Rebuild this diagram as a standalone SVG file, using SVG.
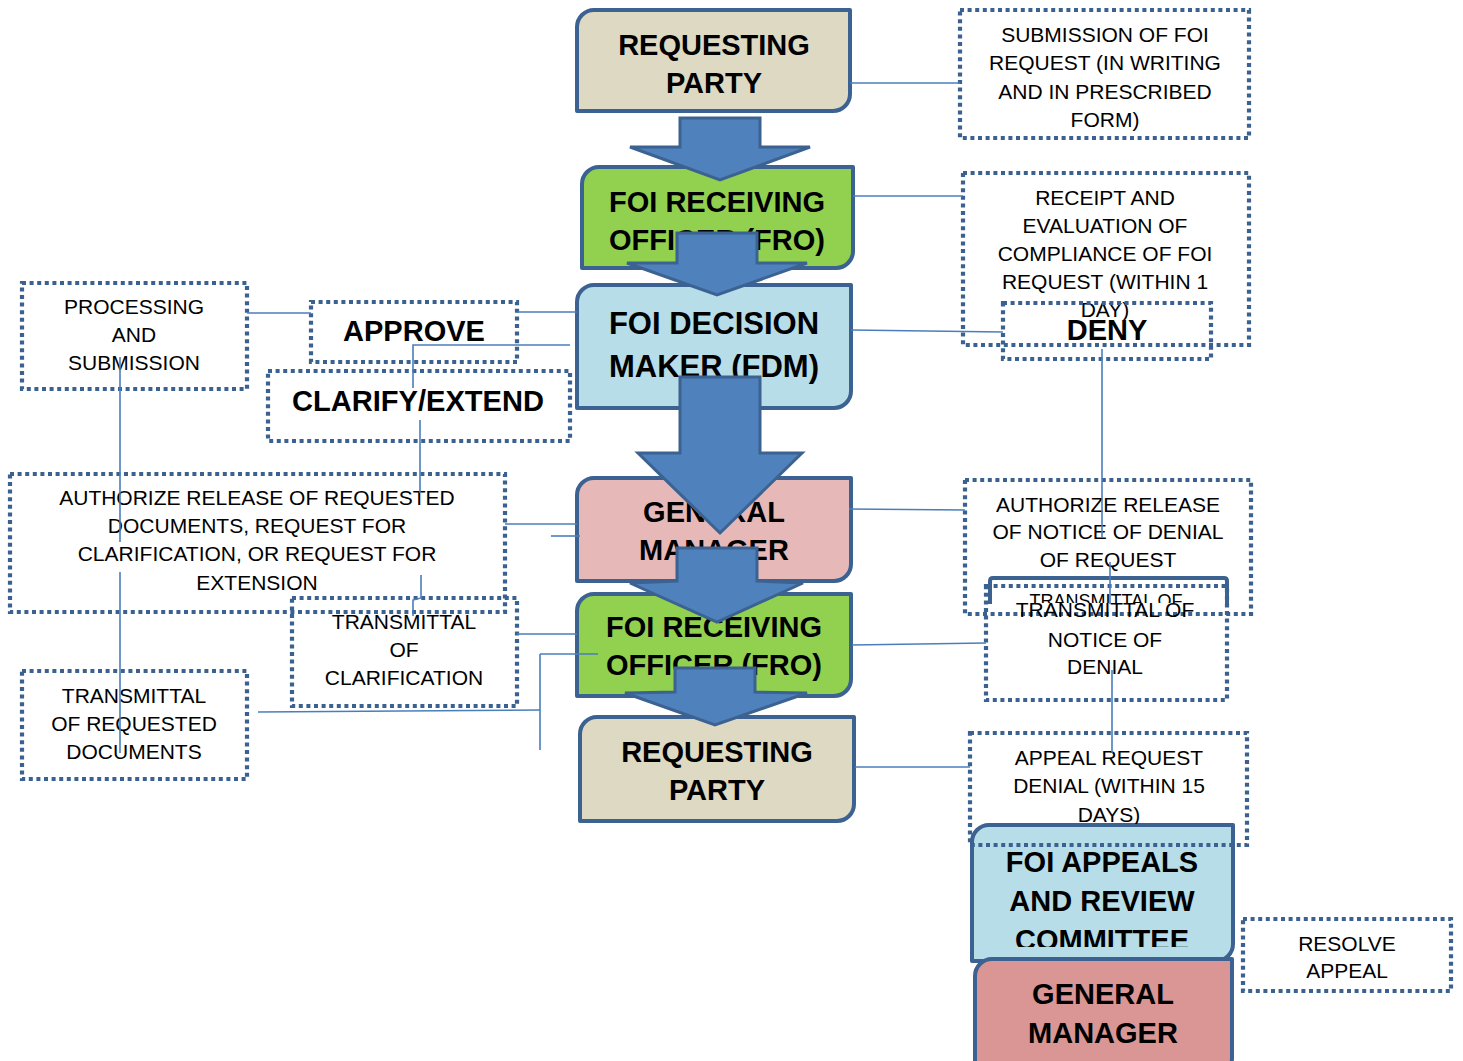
<svg xmlns="http://www.w3.org/2000/svg" width="1463" height="1061" viewBox="0 0 1463 1061">
<defs>
<style>
.box{stroke:#3c6291;stroke-width:4;stroke-linejoin:round}
.arrow{fill:#4f81bd;stroke:#3c6291;stroke-width:3;stroke-linejoin:miter}
.dot{fill:none;stroke:#3b6190;stroke-width:4.2;stroke-dasharray:4 3.6}
.bt{font-family:"Liberation Sans",Arial,sans-serif;font-weight:bold;font-size:29px;fill:#000;text-anchor:middle}
.nt{font-family:"Liberation Sans",Arial,sans-serif;font-size:21px;fill:#000;text-anchor:middle}
.conn line,.conn polyline{stroke:#4a7ebb;stroke-width:1.6;fill:none}
</style>
<clipPath id="clipCommittee"><rect x="960" y="820" width="300" height="127"/></clipPath>
<clipPath id="clipDays"><rect x="960" y="730" width="300" height="94"/></clipPath>
<clipPath id="clipGhost"><rect x="980" y="580" width="260" height="23"/></clipPath>
</defs>
<rect width="1463" height="1061" fill="#fff"/>

<g id="requesting-party-1">
<path class="box" fill="#ddd9c3" d="M577,27 A17,17 0 0 1 594,10 H850 V94 A17,17 0 0 1 833,111 H577 Z"/>
<text class="bt" x="714" y="55">REQUESTING</text>
<text class="bt" x="714" y="93">PARTY</text>
</g>
<g id="fro-1">
<path class="box" fill="#92d050" d="M582,184 A17,17 0 0 1 599,167 H853 V251 A17,17 0 0 1 836,268 H582 Z"/>
<text class="bt" x="717" y="212">FOI RECEIVING</text>
<text class="bt" x="717" y="250">OFFICER (FRO)</text>
</g>
<g id="fdm">
<path class="box" fill="#b7dde8" d="M577,302 A17,17 0 0 1 594,285 H851 V391 A17,17 0 0 1 834,408 H577 Z"/>
<text class="bt" x="714" y="334" style="font-size:31px">FOI DECISION</text>
<text class="bt" x="714" y="377" style="font-size:31px">MAKER (FDM)</text>
</g>
<g id="general-manager-1">
<path class="box" fill="#e6b9b8" d="M577,495 A17,17 0 0 1 594,478 H851 V564 A17,17 0 0 1 834,581 H577 Z"/>
<text class="bt" x="714" y="522">GENERAL</text>
<text class="bt" x="714" y="560">MANAGER</text>
</g>
<g id="fro-2">
<path class="box" fill="#92d050" d="M577,611 A17,17 0 0 1 594,594 H851 V679 A17,17 0 0 1 834,696 H577 Z"/>
<text class="bt" x="714" y="637">FOI RECEIVING</text>
<text class="bt" x="714" y="675">OFFICER (FRO)</text>
</g>
<g id="requesting-party-2">
<path class="box" fill="#ddd9c3" d="M580,734 A17,17 0 0 1 597,717 H854 V804 A17,17 0 0 1 837,821 H580 Z"/>
<text class="bt" x="717" y="762">REQUESTING</text>
<text class="bt" x="717" y="800">PARTY</text>
</g>
<g id="appeals-committee">
<path class="box" fill="#b7dde8" d="M972,842 A17,17 0 0 1 989,825 H1233 V944 A17,17 0 0 1 1216,961 H972 Z"/>
<g clip-path="url(#clipCommittee)">
<text class="bt" x="1102" y="872">FOI APPEALS</text>
<text class="bt" x="1102" y="911">AND REVIEW</text>
<text class="bt" x="1102" y="950">COMMITTEE</text>
</g>
</g>
<g id="general-manager-2">
<path class="box" fill="#d99694" d="M975,976 A17,17 0 0 1 992,959 H1232 V1058 A17,17 0 0 1 1215,1075 H975 Z"/>
<text class="bt" x="1103" y="1004">GENERAL</text>
<text class="bt" x="1103" y="1043">MANAGER</text>
</g>

<g id="flow-arrows">
<polygon class="arrow" points="680,118 760,118 760,147 810,147 720,180 630,147 680,147"/>
<polygon class="arrow" points="677,233 757,233 757,263 807,263 717,295 627,263 677,263"/>
<polygon class="arrow" points="680,377 760,377 760,453 802,453 720,533 638,453 680,453"/>
<polygon class="arrow" points="677,548 757,548 757,581 803,583 717,622 630,583 677,581"/>
<polygon class="arrow" points="675,668 755,668 755,692 807,693 715,725 625,693 675,692"/>
</g>

<g id="submission">
<rect class="dot" x="960" y="10" width="289" height="128"/>
<text class="nt" x="1105" y="42">SUBMISSION OF FOI</text>
<text class="nt" x="1105" y="70">REQUEST (IN WRITING</text>
<text class="nt" x="1105" y="99">AND IN PRESCRIBED</text>
<text class="nt" x="1105" y="127">FORM)</text>
</g>
<g id="receipt">
<rect class="dot" x="963" y="173" width="286" height="172"/>
<text class="nt" x="1105" y="205">RECEIPT AND</text>
<text class="nt" x="1105" y="233">EVALUATION OF</text>
<text class="nt" x="1105" y="261">COMPLIANCE OF FOI</text>
<text class="nt" x="1105" y="289">REQUEST (WITHIN 1</text>
<text class="nt" x="1105" y="317">DAY)</text>
</g>
<g id="deny">
<rect class="dot" x="1003" y="303" width="208" height="56"/>
<text class="bt" x="1107" y="340">DENY</text>
</g>
<g id="processing">
<rect class="dot" x="22" y="283" width="225" height="106"/>
<text class="nt" x="134" y="314">PROCESSING</text>
<text class="nt" x="134" y="342">AND</text>
<text class="nt" x="134" y="370">SUBMISSION</text>
</g>
<g id="approve">
<rect class="dot" x="311" y="302" width="206" height="60"/>
<text class="bt" x="414" y="341">APPROVE</text>
</g>
<g id="clarify">
<rect class="dot" x="268" y="371" width="302" height="70"/>
<text class="bt" x="418" y="411" textLength="252" lengthAdjust="spacingAndGlyphs">CLARIFY/EXTEND</text>
</g>
<g id="authorize-release">
<rect class="dot" x="10" y="474" width="495" height="138"/>
<text class="nt" x="257" y="505">AUTHORIZE RELEASE OF REQUESTED</text>
<text class="nt" x="257" y="533">DOCUMENTS, REQUEST FOR</text>
<text class="nt" x="257" y="561">CLARIFICATION, OR REQUEST FOR</text>
<text class="nt" x="257" y="590">EXTENSION</text>
</g>
<g id="transmittal-clarification">
<rect class="dot" x="292" y="598" width="225" height="108"/>
<text class="nt" x="404" y="629">TRANSMITTAL</text>
<text class="nt" x="404" y="657">OF</text>
<text class="nt" x="404" y="685">CLARIFICATION</text>
</g>
<g id="transmittal-documents">
<rect class="dot" x="22" y="671" width="225" height="108"/>
<text class="nt" x="134" y="703">TRANSMITTAL</text>
<text class="nt" x="134" y="731">OF REQUESTED</text>
<text class="nt" x="134" y="759">DOCUMENTS</text>
</g>
<g id="authorize-denial">
<rect class="dot" x="965" y="480" width="286" height="134"/>
<text class="nt" x="1108" y="512">AUTHORIZE RELEASE</text>
<text class="nt" x="1108" y="539">OF NOTICE OF DENIAL</text>
<text class="nt" x="1108" y="567">OF REQUEST</text>
</g>
<g id="transmittal-denial">
<path d="M990,604 V581 Q990,578 993,578 H1224 Q1227,578 1227,581 V604" fill="none" stroke="#3c6291" stroke-width="4"/>
<rect class="dot" x="986" y="586" width="241" height="114"/>
<g clip-path="url(#clipGhost)">
<text class="nt" x="1106" y="607" style="font-size:18px">TRANSMITTAL OF</text>
</g>
<text class="nt" x="1105" y="617">TRANSMITTAL OF</text>
<text class="nt" x="1105" y="647">NOTICE OF</text>
<text class="nt" x="1105" y="674">DENIAL</text>
</g>
<g id="appeal-request">
<g clip-path="url(#clipDays)">
<text class="nt" x="1109" y="765">APPEAL REQUEST</text>
<text class="nt" x="1109" y="793">DENIAL (WITHIN 15</text>
<text class="nt" x="1109" y="822">DAYS)</text>
</g>
<rect class="dot" x="970" y="733" width="277" height="112"/>
</g>
<g id="resolve-appeal">
<rect class="dot" x="1243" y="919" width="208" height="72"/>
<text class="nt" x="1347" y="951">RESOLVE</text>
<text class="nt" x="1347" y="978">APPEAL</text>
</g>

<g id="connectors" class="conn">
<line x1="850" y1="83" x2="960" y2="83"/>
<line x1="853" y1="196" x2="963" y2="196"/>
<line x1="851" y1="330" x2="1003" y2="332"/>
<line x1="1102" y1="349" x2="1102" y2="537"/>
<line x1="1110" y1="562" x2="1110" y2="604"/>
<line x1="1112" y1="670" x2="1112" y2="753"/>
<line x1="849" y1="509" x2="965" y2="510"/>
<line x1="852" y1="645" x2="986" y2="643"/>
<line x1="855" y1="767" x2="970" y2="767"/>
<line x1="247" y1="313" x2="311" y2="313"/>
<line x1="517" y1="312" x2="577" y2="312"/>
<polyline points="570,345 413,345 413,388"/>
<line x1="420" y1="420" x2="420" y2="493"/>
<polyline points="421,575 421,598 413,600 413,616"/>
<line x1="120" y1="357" x2="120" y2="542"/>
<line x1="120" y1="572" x2="120" y2="753"/>
<line x1="505" y1="524" x2="577" y2="524"/>
<line x1="551" y1="536" x2="580" y2="536"/>
<line x1="517" y1="634" x2="577" y2="634"/>
<line x1="540" y1="654" x2="598" y2="654"/>
<line x1="540" y1="654" x2="540" y2="750"/>
<line x1="258" y1="712" x2="540" y2="710"/>
</g>
</svg>
